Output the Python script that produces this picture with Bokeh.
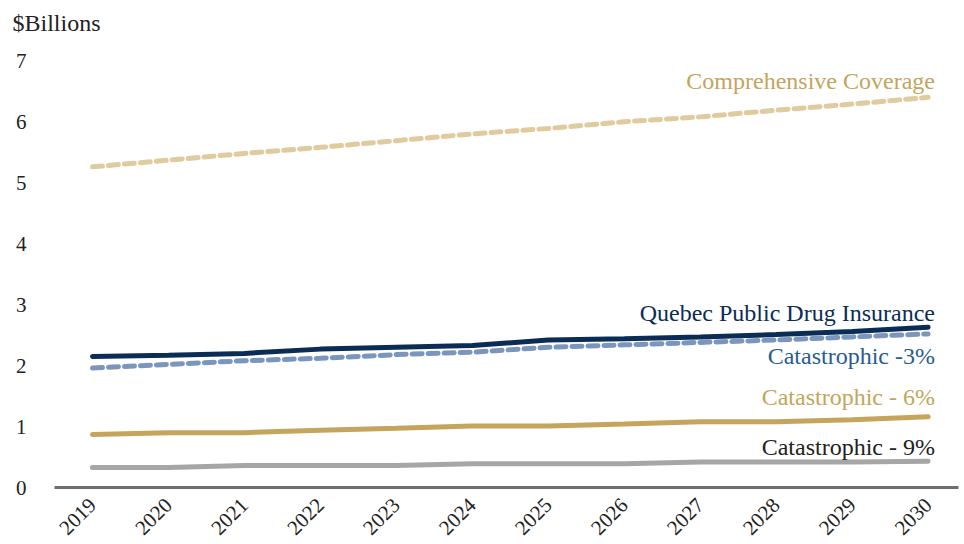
import math
from bokeh.plotting import figure
from bokeh.models import Label, FixedTicker
from bokeh.embed import file_html
from bokeh.resources import INLINE

years = [2019, 2020, 2021, 2022, 2023, 2024, 2025, 2026, 2027, 2028, 2029, 2030]
comprehensive = [5.26, 5.37, 5.48, 5.58, 5.69, 5.80, 5.89, 6.00, 6.08, 6.19, 6.29, 6.40]
quebec = [2.15, 2.17, 2.20, 2.27, 2.30, 2.33, 2.42, 2.44, 2.47, 2.51, 2.56, 2.63]
cat3 = [1.96, 2.02, 2.08, 2.12, 2.18, 2.22, 2.30, 2.34, 2.38, 2.42, 2.47, 2.52]
cat6 = [0.87, 0.90, 0.90, 0.94, 0.97, 1.01, 1.01, 1.04, 1.08, 1.08, 1.11, 1.16]
cat9 = [0.33, 0.33, 0.36, 0.36, 0.36, 0.39, 0.39, 0.39, 0.42, 0.42, 0.42, 0.43]
y_ticks = [0, 1, 2, 3, 4, 5, 6, 7]
series_names = ["Comprehensive Coverage", "Quebec Public Drug Insurance",
                "Catastrophic -3%", "Catastrophic - 6%", "Catastrophic - 9%"]

FONT = "Liberation Serif"

p = figure(width=964, height=544, output_backend="svg", toolbar_location=None,
           x_range=(2018.5, 2030.4), y_range=(0, 7.3),
           min_border_left=54, min_border_right=6, min_border_top=42, min_border_bottom=57)
p.outline_line_color = None
p.grid.grid_line_color = None
p.background_fill_color = "white"

p.title.text = "$Billions"
p.title.align = "left"
p.title.offset = -42
p.title.standoff = 13
p.title.text_font = FONT
p.title.text_font_size = "24px"
p.title.text_font_style = "normal"
p.title.text_color = "#222222"

p.line(years, comprehensive, line_color="#dfcb9d", line_width=5, line_dash="10 6", line_cap="round")
p.line(years, cat3, line_color="#7b96bd", line_width=5, line_dash="10 6", line_cap="round")
p.line(years, quebec, line_color="#0b2d55", line_width=5, line_cap="round")
p.line(years, cat6, line_color="#c4a55b", line_width=5, line_cap="round")
p.line(years, cat9, line_color="#a6a6a6", line_width=5, line_cap="round")

# axes
p.xaxis.ticker = FixedTicker(ticks=years)
p.xaxis.major_label_orientation = math.pi / 4
p.xaxis.axis_line_color = "#6e6e72"
p.xaxis.axis_line_width = 3
p.xaxis.major_tick_line_color = None
p.xaxis.minor_tick_line_color = None
p.xaxis.major_label_text_font = FONT
p.xaxis.major_label_text_font_size = "21px"
p.xaxis.major_label_text_color = "#222222"
p.xaxis.major_label_standoff = 8

p.yaxis.ticker = FixedTicker(ticks=y_ticks)
p.yaxis.axis_line_color = None
p.yaxis.major_tick_line_color = None
p.yaxis.minor_tick_line_color = None
p.yaxis.major_label_text_font = FONT
p.yaxis.major_label_text_font_size = "21px"
p.yaxis.major_label_text_color = "#222222"
p.yaxis.major_label_standoff = 22

label_x = 2030.09
label_specs = [
    (series_names[0], 6.67, "#c4a55b"),
    (series_names[1], 2.87, "#0b2d55"),
    (series_names[2], 2.15, "#2a5c8f"),
    (series_names[3], 1.48, "#c4a55b"),
    (series_names[4], 0.67, "#222222"),
]
for txt, yy, col in label_specs:
    p.add_layout(Label(x=label_x, y=yy, text=txt, text_align="right", text_baseline="middle",
                       text_font=FONT, text_font_size="24px", text_color=col))

open("out.html", "w").write(file_html(p, INLINE))
